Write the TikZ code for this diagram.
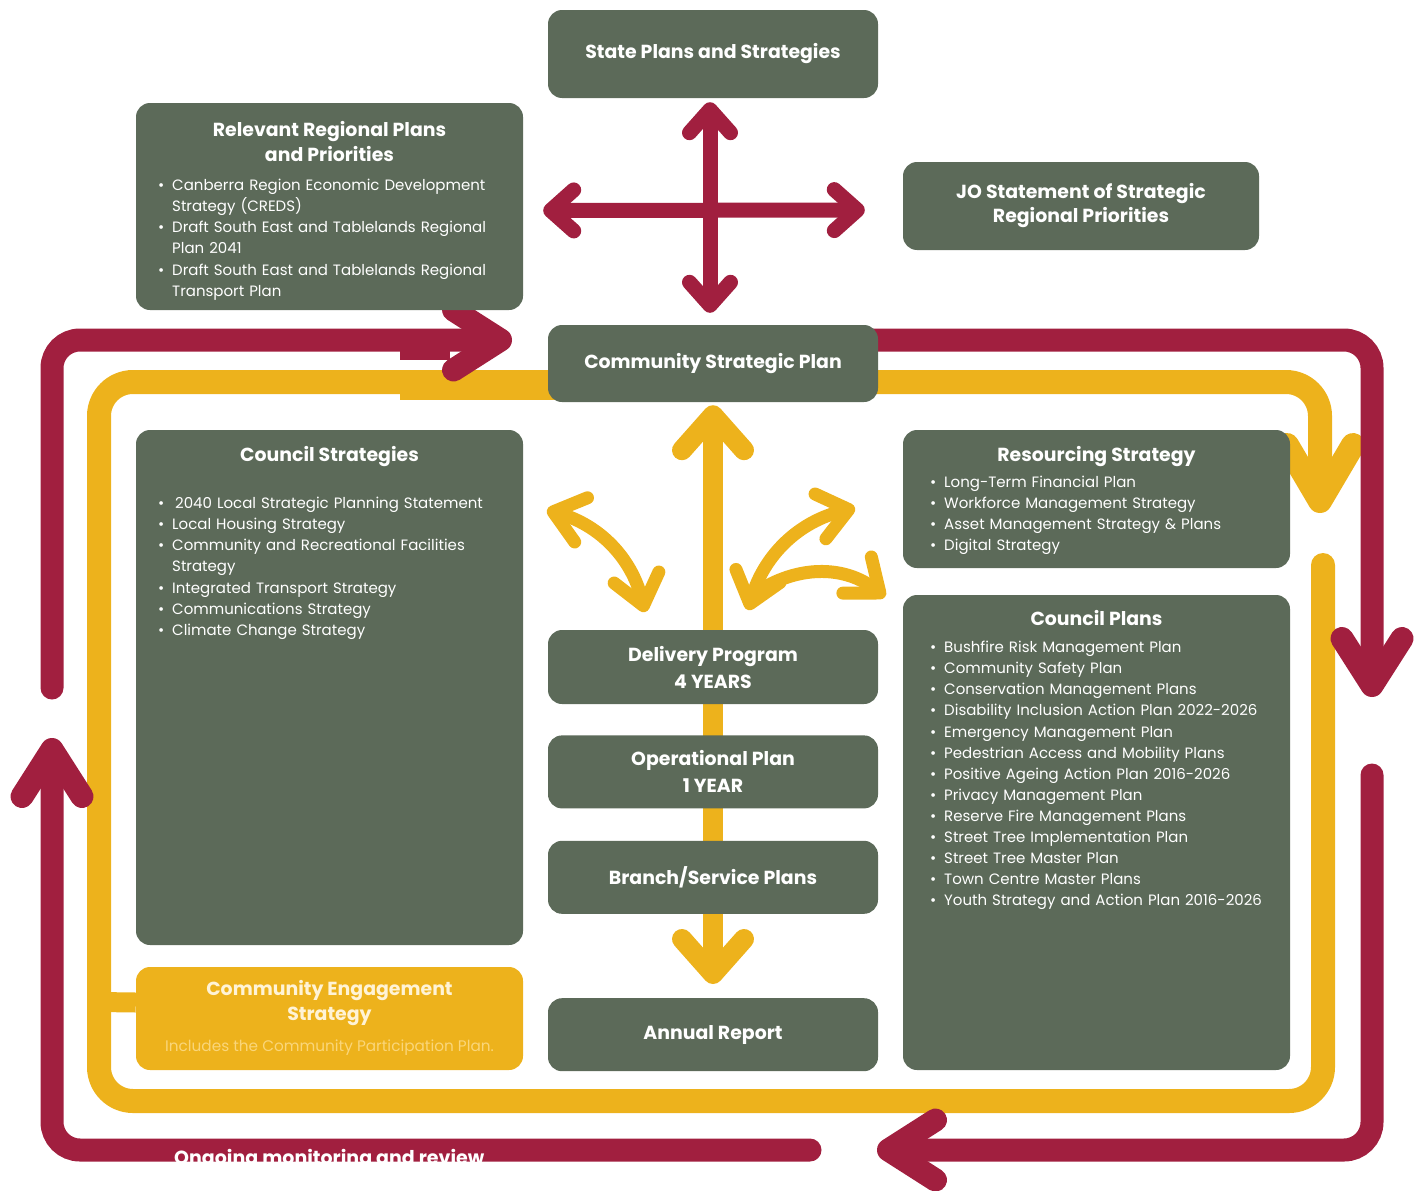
\documentclass[tikz,border=0pt]{standalone}
\usepackage{fontspec}
\setmainfont{Poppins}
\usepackage{tikz}
\usetikzlibrary{arrows.meta, positioning, calc, backgrounds}
\definecolor{IPRGreen}{RGB}{92,106,89}
\definecolor{IPRRed}{RGB}{161,31,63}
\definecolor{IPRYellow}{RGB}{237,178,28}
\definecolor{IPRCream}{RGB}{255,243,214}
\definecolor{IPRPale}{RGB}{250,214,122}

\newcommand{\planitem}[1]{\hangindent=14pt\hangafter=1\noindent\makebox[14pt][l]{\textbullet}#1\par}

\tikzset{
  planbox/.style={rectangle, rounded corners=14pt, fill=IPRGreen, text=white, inner sep=0pt,
    align=center, font=\bfseries\fontsize{18.9}{24}\selectfont},
  boxtitle/.style={text=white, inner sep=0pt, align=center, font=\bfseries\fontsize{18.9}{25}\selectfont},
  boxlist/.style={text=white, inner sep=0pt, anchor=north west, text width=#1,
    font=\fontsize{15}{21.1}\selectfont},
  boxlist/.default=370pt,
  redtip/.tip={Straight Barb[round, length=47pt, width=60pt]},
  curvetip/.tip={Straight Barb[round, length=29pt, width=46pt]},
  redloop/.style={draw=IPRRed, line width=23pt, rounded corners=28pt, line cap=round},
  yellowloop/.style={draw=IPRYellow, line width=24pt, rounded corners=34pt, line cap=round},
  redcross/.style={draw=IPRRed, line width=15pt, line cap=round,
    {Straight Barb[round, length=23pt, width=41pt]}-{Straight Barb[round, length=23pt, width=41pt]}},
  yellowaxis/.style={draw=IPRYellow, line width=20pt,
    {Straight Barb[round, length=35pt, width=62pt]}-{Straight Barb[round, length=35pt, width=62pt]}},
  yellowcurve/.style={draw=IPRYellow, line width=13pt, line cap=round},
  reviewlabel/.style={text=white, inner sep=0pt, anchor=base west, font=\bfseries\fontsize{19}{20}\selectfont}
}

\begin{document}
\begin{tikzpicture}[x=1pt, y=-1pt]
  \path[use as bounding box] (0,0) rectangle (1427,1191);

  % top row
  \node[planbox, minimum width=330pt, minimum height=88pt] (state) at (713,54) {State Plans and Strategies};
  \node[planbox, minimum width=387pt, minimum height=207pt] (regional) at (329.5,206.5) {};
  \node[boxtitle, below=18pt of regional.north] (regionaltitle) {Relevant Regional Plans\\and Priorities};
  \node[boxlist] (regionallist) at (158,179) {%
    \planitem{Canberra Region Economic Development\newline Strategy (CREDS)}
    \planitem{Draft South East and Tablelands Regional\newline Plan 2041}
    \planitem{Draft South East and Tablelands Regional\newline Transport Plan}};
  \node[planbox, minimum width=356pt, minimum height=88pt] (jo) at (1081,206) {JO Statement of Strategic\\Regional Priorities};
  \node[planbox, minimum width=330pt, minimum height=77pt] (csp) at (713,363.5) {Community Strategic Plan};

  % left column
  \node[planbox, minimum width=387pt, minimum height=515pt] (cstrat) at (329.5,687.5) {};
  \node[boxtitle, below=16pt of cstrat.north] (cstrattitle) {Council Strategies};
  \node[boxlist] (cstratlist) at (158,497) {%
    \planitem{\hspace{3pt}2040 Local Strategic Planning Statement}
    \planitem{Local Housing Strategy}
    \planitem{Community and Recreational Facilities\newline Strategy}
    \planitem{Integrated Transport Strategy}
    \planitem{Communications Strategy}
    \planitem{Climate Change Strategy}};
  \node[planbox, fill=IPRYellow, minimum width=387pt, minimum height=103pt] (ce) at (329.5,1018.5) {};
  \node[boxtitle, text=IPRCream, below=13pt of ce.north] (cetitle) {Community Engagement\\Strategy};
  \node[text=IPRPale, inner sep=0pt, font=\fontsize{15.3}{16}\selectfont, below=14pt of cetitle] (cenote)
    {Includes the Community Participation Plan.};

  % centre column
  \node[planbox, minimum width=330pt, minimum height=74pt] (delivery) at (713,667) {Delivery Program\\[3pt]4 YEARS};
  \node[planbox, minimum width=330pt, minimum height=73pt, below=31pt of delivery] (operational) {Operational Plan\\[3pt]1 YEAR};
  \node[planbox, minimum width=330pt, minimum height=73pt, below=32pt of operational] (branch) {Branch/Service Plans};
  \node[planbox, minimum width=330pt, minimum height=73pt, below=84pt of branch] (annual) {Annual Report};

  % right column
  \node[planbox, minimum width=387pt, minimum height=138pt] (resourcing) at (1096.5,499) {};
  \node[boxtitle, below=16pt of resourcing.north] (resourcingtitle) {Resourcing Strategy};
  \node[boxlist] (resourcinglist) at (930,476) {%
    \planitem{Long-Term Financial Plan}
    \planitem{Workforce Management Strategy}
    \planitem{Asset Management Strategy \& Plans}
    \planitem{Digital Strategy}};
  \node[planbox, minimum width=387pt, minimum height=475pt] (cplans) at (1096.5,832.5) {};
  \node[boxtitle, below=15pt of cplans.north] (cplanstitle) {Council Plans};
  \node[boxlist] (cplanslist) at (930,641) {%
    \planitem{Bushfire Risk Management Plan}
    \planitem{Community Safety Plan}
    \planitem{Conservation Management Plans}
    \planitem{Disability Inclusion Action Plan 2022-2026}
    \planitem{Emergency Management Plan}
    \planitem{Pedestrian Access and Mobility Plans}
    \planitem{Positive Ageing Action Plan 2016-2026}
    \planitem{Privacy Management Plan}
    \planitem{Reserve Fire Management Plans}
    \planitem{Street Tree Implementation Plan}
    \planitem{Street Tree Master Plan}
    \planitem{Town Centre Master Plans}
    \planitem{Youth Strategy and Action Plan 2016-2026}};

  % loops behind the boxes
  \begin{scope}[on background layer]
    % yellow engagement loop
    \draw[yellowloop] (560,382) -- (99,382) -- (99,1101) -- (1323,1101) -- (1323,565);
    \fill[IPRYellow] (400,372) rectangle (560,400);
    \draw[yellowloop, -{Straight Barb[round, length=56pt, width=66pt]}] (860,382) -- (1320,382) -- (1320,513);
    \draw[IPRYellow, line width=20pt] (99,1002) -- ([yshift=16pt]ce.west);
    % red review loop
    \draw[redloop, -{redtip}] (1372,775) -- (1372,1150) -- (877,1150);
    \draw[redloop, -{redtip}] (810,1150) -- (52,1150) -- (52,738);
    \draw[redloop, -{redtip}] (860,340) -- (1372,340) -- (1372,697);
    \fill[IPRRed] (400,336) rectangle (450,360);
    \draw[redloop, -{redtip}] (52,688) -- (52,340) -- (512,340);
    % centre axis
    \draw[yellowaxis, shorten <=3pt, shorten >=14pt] (csp.south) -- (annual.north);
  \end{scope}

  % links between the plans
  \draw[redcross, shorten <=4pt, shorten >=12pt] ([xshift=-3pt]state.south) -- ([xshift=-3pt]csp.north);
  \draw[redcross, shorten <=20pt, shorten >=38pt] ([yshift=-4pt]regional.east) -- ([yshift=-4pt]jo.west);
  \draw[yellowcurve, {curvetip}-{curvetip}] (547,510) to[bend left=30] (645,612);
  \draw[yellowcurve, {curvetip}-{curvetip}] (748,610) to[bend left=30] (855,508);
  \draw[yellowcurve, -{curvetip}] (760,590) to[bend left=35] (885,597);

  \node[reviewlabel] (review) at (174,1164) {Ongoing monitoring and review};
\end{tikzpicture}
\end{document}
